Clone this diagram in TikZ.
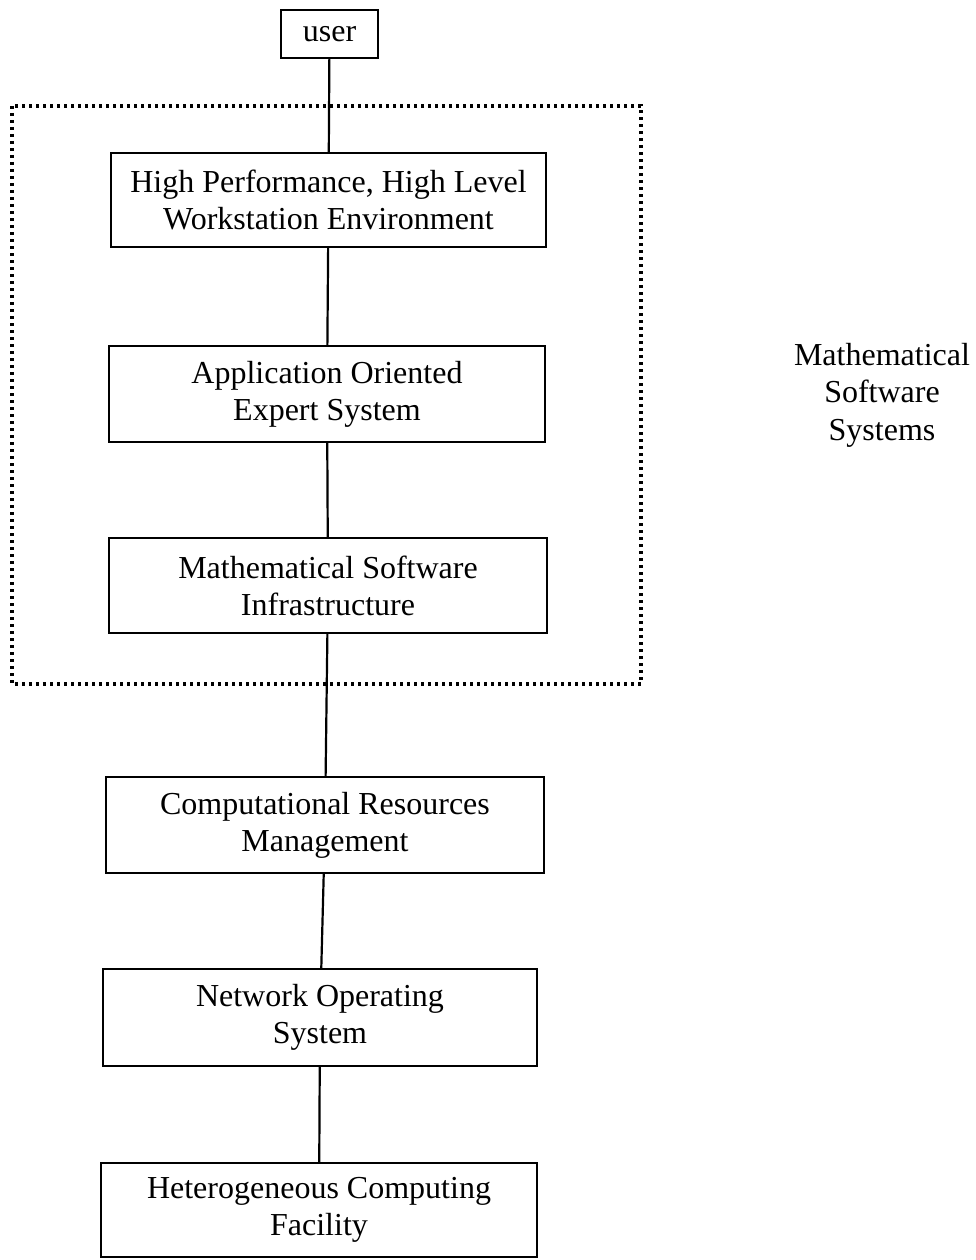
\documentclass[tikz,border=0pt]{standalone}
\usepackage{fontspec}
\setmainfont{Liberation Serif}
\begin{document}
\begin{tikzpicture}[x=1pt,y=-1pt,
  layer/.style={draw=black, line width=2.2pt, rectangle, inner sep=0pt,
    align=center, font=\fontsize{32}{37}\selectfont},
  link/.style={draw=black, line width=2.2pt},
  group/.style={draw=black, line width=3.2pt, dash pattern=on 3pt off 4pt},
  caption/.style={align=center, font=\fontsize{32}{37.5}\selectfont}]
\useasboundingbox (0,0) rectangle (975,1260);

% grouping frame around the software layers
\draw[group] (12,106) rectangle (641,684);

\node[layer, minimum width=97pt, minimum height=48pt] (user) at (329.5,34) {user};
\node[layer, minimum width=435pt, minimum height=94pt] (env) at (328.5,200)
  {High Performance, High Level\\Workstation Environment};
\node[layer, minimum width=436pt, minimum height=96pt] (expert) at (327,394)
  {Application Oriented\\Expert System};
\node[layer, minimum width=438pt, minimum height=95pt] (infra) at (328,585.5)
  {Mathematical Software\\Infrastructure};
\node[layer, minimum width=438pt, minimum height=96pt] (crm) at (325,825)
  {Computational Resources\\Management};
\node[layer, minimum width=434pt, minimum height=97pt] (nos) at (320,1017.5)
  {Network Operating\\System};
\node[layer, minimum width=436pt, minimum height=94pt] (hcf) at (319,1210)
  {Heterogeneous Computing\\Facility};

\node[caption] (mss) at (882,395) {Mathematical\\Software\\Systems};

\draw[link] (user) -- (env);
\draw[link] (env) -- (expert);
\draw[link] (expert) -- (infra);
\draw[link] (infra) -- (crm);
\draw[link] (crm) -- (nos);
\draw[link] (nos) -- (hcf);
\end{tikzpicture}
\end{document}
